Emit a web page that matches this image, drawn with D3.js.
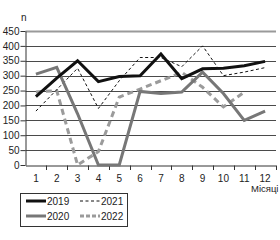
<!DOCTYPE html>
<html><head><meta charset="utf-8">
<script src="https://cdn.jsdelivr.net/npm/d3@7"></script>
<style>
html,body{margin:0;padding:0;background:#fff;}
svg{display:block;font-family:"Liberation Sans",Arial,sans-serif;}
</style></head>
<body><svg id="c" width="280" height="240"></svg>
<script>
const months = [1,2,3,4,5,6,7,8,9,10,11,12];
const yTicks = [0,50,100,150,200,250,300,350,400,450];
const s2019 = [230,292,350,280,297,300,373,290,323,325,333,348];
const s2020 = [305,328,172,0,0,247,240,245,312,240,150,181];
const s2021 = [181,253,325,190,283,361,361,330,400,300,312,327];
const s2022 = [245,250,0,45,228,255,283,311,261,195,245,null];
const seriesNames = ["2019","2020","2021","2022"];
const xTitle = "Місяці";
const yTitle = "n";

const svg = d3.select("#c");
const x = d3.scaleBand().domain(months).range([25.5,275.5]).padding(0);
const y = d3.scaleLinear().domain([0,450]).range([165,31]);

// gridlines
svg.append("g").selectAll("line").data(yTicks.filter(t=>t>0)).join("line")
  .attr("x1",25.5).attr("x2",276).attr("y1",d=>Math.round(y(d))+0.5).attr("y2",d=>Math.round(y(d))+0.5)
  .attr("stroke",d=>d===450?"#9a9a9a":"#4a4a4a").attr("stroke-width",d=>d===450?2:1);

// y axis
const ya = svg.append("g").attr("transform","translate(25.5,0)")
  .call(d3.axisLeft(y).tickValues(yTicks).tickSize(5).tickSizeOuter(0));
ya.select(".domain").attr("stroke","#333");
ya.selectAll(".tick line").attr("stroke","#333");
ya.selectAll("text").attr("font-size",10).attr("fill","#222").attr("x",-6);

// x axis
const xa = svg.append("g").attr("transform","translate(0,165.5)")
  .call(d3.axisBottom(x).tickSize(0).tickSizeOuter(0).tickPadding(9));
xa.select(".domain").attr("stroke","#333");
xa.selectAll("text").attr("font-size",10).attr("fill","#222");
const bounds = months.map(m=>x(m)).concat([x(12)+x.bandwidth()]);
svg.append("g").selectAll("line").data(bounds.slice(1)).join("line")
  .attr("x1",d=>Math.round(d)+0.5).attr("x2",d=>Math.round(d)+0.5).attr("y1",165.5).attr("y2",170)
  .attr("stroke","#333");

const cx = m => x(m)+x.bandwidth()/2;
const styles = {
  "2019":{data:s2019,color:"#111",w:3,dash:null},
  "2020":{data:s2020,color:"#777",w:3,dash:null},
  "2021":{data:s2021,color:"#111",w:1,dash:"3,2.5"},
  "2022":{data:s2022,color:"#9b9b9b",w:3,dash:"6,4"}
};
const line = d3.line().defined(d=>d.v!=null).x(d=>cx(d.m)).y(d=>y(d.v));
["2022","2021","2020","2019"].forEach(n=>{
  const st = styles[n];
  svg.append("path").datum(months.map((m,i)=>({m,v:st.data[i]})))
    .attr("d",line).attr("fill","none").attr("stroke",st.color)
    .attr("stroke-width",st.w).attr("stroke-dasharray",st.dash).attr("stroke-linejoin","miter");
});

svg.append("text").attr("x",21).attr("y",21).attr("font-size",10).attr("fill","#222").text(yTitle);
svg.append("text").attr("x",251).attr("y",192).attr("font-size",9.5).attr("fill","#222").text(xTitle);

// legend
const lg = svg.append("g");
lg.append("rect").attr("x",20.5).attr("y",193.5).attr("width",107).attr("height",33)
  .attr("fill","#fff").attr("stroke","#333");
const pos = {"2019":[26,201],"2020":[26,216],"2021":[80,201],"2022":[80,216]};
seriesNames.forEach(n=>{
  const st = styles[n], p = pos[n];
  lg.append("line").attr("x1",p[0]).attr("x2",p[0]+20).attr("y1",p[1]).attr("y2",p[1])
    .attr("stroke",st.color).attr("stroke-width",st.w).attr("stroke-dasharray",n==="2022"?"4,2":st.dash);
  lg.append("text").attr("x",p[0]+21).attr("y",p[1]+4).attr("font-size",10).attr("fill","#222").text(n);
});
</script></body></html>
